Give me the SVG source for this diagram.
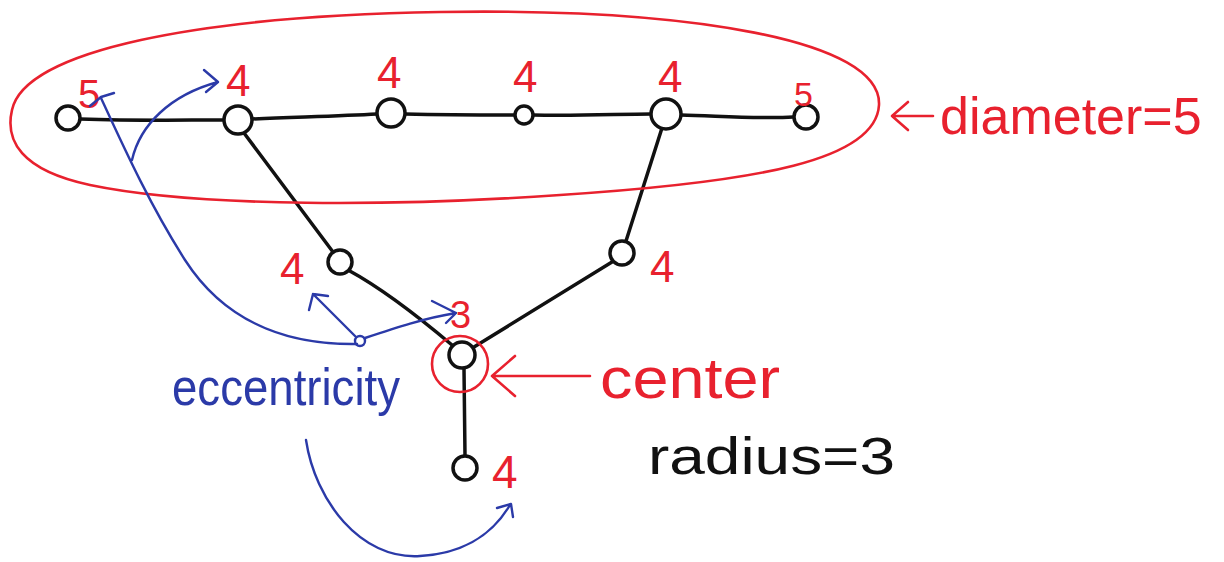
<svg xmlns="http://www.w3.org/2000/svg" width="1224" height="562" viewBox="0 0 1224 562">
<defs>
<style>
.edge{fill:none;stroke:#111;stroke-width:3.5;stroke-linecap:round}
.node{fill:#fff;stroke:#111;stroke-width:3.5}
.red{fill:none;stroke:#e8212e;stroke-width:2.6;stroke-linecap:round;stroke-linejoin:round}
.blue{fill:none;stroke:#2b3aa8;stroke-width:2.4;stroke-linecap:round;stroke-linejoin:round}
.lr{font-family:"Liberation Sans","DejaVu Sans",sans-serif;fill:#e8212e}
.lb{font-family:"Liberation Sans","DejaVu Sans",sans-serif;fill:#2b3aa8}
.lk{font-family:"Liberation Sans","DejaVu Sans",sans-serif;fill:#111}
</style>
</defs>
<rect width="1224" height="562" fill="#fff"/>
<g id="connectors">
<path class="edge" d="M80,119 C140,121 180,120 224,120"/>
<path class="edge" d="M252,119 C300,117 340,116 377,114"/>
<path class="edge" d="M405,114 C450,115 490,115 515,115"/>
<path class="edge" d="M533,115 C580,116 620,114 651,114"/>
<path class="edge" d="M681,115 C720,116 760,119 793,117"/>
<path class="edge" d="M244,133 L333,252"/>
<path class="edge" d="M348,270 C385,290 420,318 452,345"/>
<path class="edge" d="M662,128 L626,241"/>
<path class="edge" d="M612,262 L474,347"/>
<path class="edge" d="M464,369 L465,456"/>
</g>
<g id="node-a"><circle class="node" cx="68" cy="118" r="12"/><text class="lr" x="78" y="108" font-size="40">5</text></g>
<g id="node-b"><circle class="node" cx="238" cy="120" r="14"/><text class="lr" x="226" y="96" font-size="44">4</text></g>
<g id="node-c"><circle class="node" cx="391" cy="113" r="14"/><text class="lr" x="377" y="88" font-size="44">4</text></g>
<g id="node-d"><circle class="node" cx="524" cy="115" r="9"/><text class="lr" x="513" y="92" font-size="44">4</text></g>
<g id="node-e"><circle class="node" cx="666" cy="114" r="15"/><text class="lr" x="658" y="92" font-size="44">4</text></g>
<g id="node-f"><circle class="node" cx="806" cy="117" r="12"/><text class="lr" x="794" y="106" font-size="34">5</text></g>
<g id="node-g"><circle class="node" cx="340" cy="262" r="12"/><text class="lr" x="280" y="284" font-size="44">4</text></g>
<g id="node-h"><circle class="node" cx="622" cy="253" r="12"/><text class="lr" x="650" y="282" font-size="44">4</text></g>
<g id="node-i"><circle class="node" cx="462" cy="355" r="13"/><circle class="red" cx="460" cy="364" r="28"/><text class="lr" x="450" y="328" font-size="38">3</text></g>
<g id="node-j"><circle class="node" cx="465" cy="468" r="12"/><text class="lr" x="492" y="488" font-size="46">4</text></g>
<g id="diameter">
<path class="red" d="M440,12 C690,8 882,40 879,105 C876,160 760,182 560,195 C400,206 200,208 90,185 C20,170 5,140 12,110 C25,50 200,16 440,12 Z"/>
<path class="red" d="M933,116 L892,116 M908,102 L892,116 L908,130"/>
<text class="lr" x="940" y="134" font-size="52">diameter=5</text>
</g>
<g id="center-label">
<path class="red" d="M590,376 L492,376 M515,356 L492,376 L515,396"/>
<text class="lr" x="600" y="398" font-size="58" textLength="180" lengthAdjust="spacingAndGlyphs">center</text>
</g>
<g id="radius-label">
<text class="lk" x="648" y="474" font-size="52" textLength="247" lengthAdjust="spacingAndGlyphs">radius=3</text>
</g>
<g id="eccentricity">
<text class="lb" x="172" y="405" font-size="52" textLength="228" lengthAdjust="spacingAndGlyphs">eccentricity</text>
<circle class="blue" cx="360" cy="341" r="5"/>
<path class="blue" d="M357,344 C300,345 230,330 185,260 C150,205 125,150 101,98 M90,106 L101,97 L114,93"/>
<path class="blue" d="M132,160 C140,125 170,95 218,82 M204,70 L218,82 L206,92"/>
<path class="blue" d="M356,337 L313,294 M313,294 L328,296 M313,294 L309,310"/>
<path class="blue" d="M365,338 C395,328 425,318 456,313 M432,301 L456,313 L446,323"/>
<path class="blue" d="M306,440 C315,500 360,560 420,556 C470,553 495,530 510,505 M497,508 L511,504 L513,517"/>
</g>
</svg>
